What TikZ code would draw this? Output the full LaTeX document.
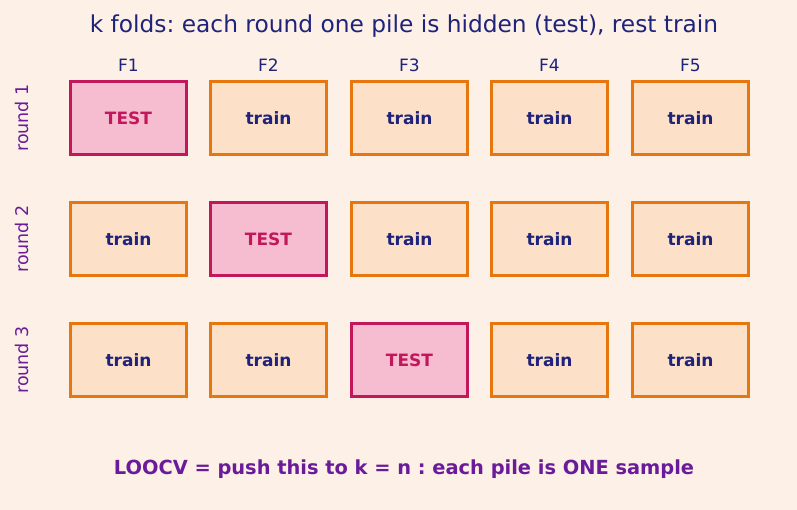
\documentclass[tikz,border=0pt]{standalone}
\usepackage{fontspec}
\setmainfont{DejaVu Sans}
\frenchspacing
\definecolor{bg}{HTML}{FDF0E6}
\definecolor{navy}{HTML}{1F237A}
\definecolor{purp}{HTML}{6A1B9A}
\definecolor{orng}{HTML}{E8760E}
\definecolor{trainfill}{HTML}{FDE0C8}
\definecolor{testfill}{HTML}{F6BCD0}
\definecolor{testcol}{HTML}{C2185B}
\tikzset{
  trainbox/.style={draw=orng, fill=trainfill, line width=3.5pt, minimum width=116pt, minimum height=73pt, inner sep=0pt, text=navy, font=\bfseries\fontsize{17}{20}\selectfont},
  testbox/.style={draw=testcol, fill=testfill, line width=3.5pt, minimum width=116pt, minimum height=73pt, inner sep=0pt, text=testcol, font=\bfseries\fontsize{17}{20}\selectfont},
  collab/.style={text=navy, font=\fontsize{17}{20}\selectfont},
  rowlab/.style={text=purp, rotate=90, font=\fontsize{17.5}{20}\selectfont},
}
\begin{document}
\begin{tikzpicture}[x=1pt,y=-1pt]
\fill[bg] (0,0) rectangle (797,510);
\useasboundingbox (0,0) rectangle (797,510);
\node[text=navy, font=\fontsize{23.3}{28}\selectfont] (title) at (404,26.5) {k folds: each round one pile is hidden (test), rest train};
\foreach \i/\x in {1/128.5,2/268.5,3/409.5,4/549.5,5/690.5}{
  \node[collab] (F\i) at (\x,65) {F\i};
}
\foreach \r/\y in {1/118,2/239,3/360}{
  \node[rowlab] (round\r) at (22,\y) {round \r};
  \foreach \i/\x in {1/128.5,2/268.5,3/409.5,4/549.5,5/690.5}{
    \ifnum\i=\r
      \node[testbox] (b\r\i) at (\x,\y) {TEST};
    \else
      \node[trainbox] (b\r\i) at (\x,\y) {train};
    \fi
  }
}
\node[text=purp, font=\bfseries\fontsize{19.4}{23}\selectfont] (note) at (404,469.5) {LOOCV = push this to k = n : each pile is ONE sample};
\end{tikzpicture}
\end{document}
